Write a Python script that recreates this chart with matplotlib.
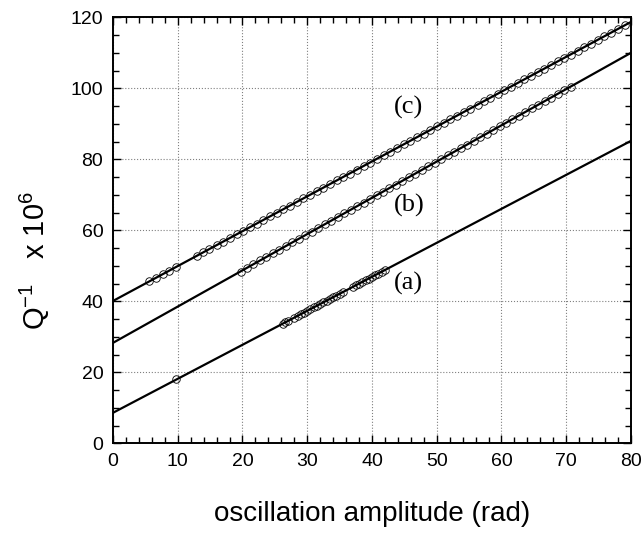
import matplotlib
matplotlib.use("Agg")
import matplotlib.pyplot as plt
from matplotlib.ticker import MultipleLocator

plt.rcParams['font.family'] = ['Liberation Sans Narrow', 'Liberation Sans', 'DejaVu Sans']
plt.rcParams['mathtext.default'] = 'regular'

# fit lines (end points at x = 0 and x = 80)
line_x = [0, 80]
line_a = [8.6, 85.2]
line_b = [28.3, 110.0]
line_c = [40.1, 118.7]

# measured points
a_x = [9.8, 26.2, 26.6, 27.0, 28.0, 28.5, 29.0, 29.5, 30.0, 30.5, 31.0, 31.5, 32.0, 32.5,
       33.0, 33.5, 34.0, 34.5, 35.0, 35.5, 37.0, 37.5, 38.0, 38.5, 39.0, 39.5, 40.0, 40.5,
       41.0, 41.5, 42.0]
a_y = [18.0, 33.7, 34.1, 34.4, 35.4, 35.9, 36.4, 36.8, 37.3, 37.8, 38.3, 38.7, 39.2, 39.7,
       40.2, 40.7, 41.1, 41.6, 42.1, 42.6, 44.0, 44.5, 45.0, 45.4, 45.9, 46.4, 46.9, 47.4,
       47.8, 48.3, 48.8]

b_x = [19.7, 20.7, 21.7, 22.7, 23.7, 24.7, 25.7, 26.7, 27.7, 28.7, 29.7, 30.7, 31.7, 32.7,
       33.7, 34.7, 35.7, 36.7, 37.7, 38.7, 39.7, 40.7, 41.7, 42.7, 43.7, 44.7, 45.7, 46.7,
       47.7, 48.7, 49.7, 50.7, 51.7, 52.7, 53.7, 54.7, 55.7, 56.7, 57.7, 58.7, 59.7, 60.7,
       61.7, 62.7, 63.7, 64.7, 65.7, 66.7, 67.7, 68.7, 69.7, 70.7]
b_y = [48.4, 49.4, 50.5, 51.5, 52.5, 53.5, 54.5, 55.6, 56.6, 57.6, 58.6, 59.6, 60.7, 61.7,
       62.7, 63.7, 64.8, 65.8, 66.8, 67.8, 68.8, 69.9, 70.9, 71.9, 72.9, 73.9, 75.0, 76.0,
       77.0, 78.0, 79.0, 80.1, 81.1, 82.1, 83.1, 84.1, 85.2, 86.2, 87.2, 88.2, 89.3, 90.3,
       91.3, 92.3, 93.3, 94.4, 95.4, 96.4, 97.4, 98.4, 99.5, 100.5]

c_x = [5.6, 6.6, 7.7, 8.7, 9.7, 12.9, 13.9, 14.9, 16.0, 17.0, 18.0, 19.1, 20.1, 21.1, 22.2,
       23.2, 24.2, 25.3, 26.3, 27.3, 28.4, 29.4, 30.4, 31.5, 32.5, 33.5, 34.6, 35.6, 36.6,
       37.7, 38.7, 39.7, 40.8, 41.8, 42.8, 43.9, 44.9, 45.9, 47.0, 48.0, 49.0, 50.1, 51.1,
       52.1, 53.2, 54.2, 55.2, 56.3, 57.3, 58.3, 59.4, 60.4, 61.4, 62.5, 63.5, 64.5, 65.6,
       66.6, 67.6, 68.7, 69.7, 70.7, 71.8, 72.8, 73.8, 74.9, 75.9, 76.9, 78.0, 79.0]
c_y = [45.6, 46.6, 47.7, 48.6, 49.6, 52.8, 53.8, 54.7, 55.8, 56.8, 57.8, 58.9, 59.8, 60.8, 61.9,
       62.9, 63.9, 65.0, 65.9, 66.9, 68.0, 69.0, 70.0, 71.0, 72.0, 73.0, 74.1, 75.1, 76.0,
       77.1, 78.1, 79.1, 80.2, 81.1, 82.1, 83.2, 84.2, 85.2, 86.3, 87.2, 88.2, 89.3, 90.3,
       91.3, 92.3, 93.3, 94.3, 95.4, 96.4, 97.4, 98.4, 99.4, 100.4, 101.5, 102.5, 103.4, 104.5,
       105.5, 106.5, 107.6, 108.5, 109.5, 110.6, 111.6, 112.6, 113.7, 114.6, 115.6, 116.7, 117.7]

labels = ["(a)", "(b)", "(c)"]
label_pos = [(45.7, 44.9), (45.7, 66.9), (45.6, 94.5)]

fig = plt.figure(figsize=(6.43, 5.36), dpi=100)
ax = fig.add_axes([0.1757, 0.1729, 0.8056, 0.7948])

for ly, px, py in [(line_a, a_x, a_y), (line_b, b_x, b_y), (line_c, c_x, c_y)]:
    ax.plot(line_x, ly, color="black", lw=1.6, zorder=3)
    ax.plot(px, py, ls="none", marker="o", ms=5.4, mfc="none", mec="black", mew=0.6, zorder=4)

for t, (x, y) in zip(labels, label_pos):
    ax.text(x, y, t, family=["Liberation Serif", "DejaVu Serif"], fontsize=19,
            ha="center", va="center")

ax.set_xlim(0, 80)
ax.set_ylim(0, 120)
ax.xaxis.set_major_locator(MultipleLocator(10))
ax.xaxis.set_minor_locator(MultipleLocator(2))
ax.yaxis.set_major_locator(MultipleLocator(20))
ax.yaxis.set_minor_locator(MultipleLocator(5))
ax.tick_params(which="both", direction="in", top=True, right=True, labelsize=14, width=1)
ax.tick_params(which="major", length=6, pad=7)
ax.tick_params(which="minor", length=4)
ax.grid(True, which="major", color="gray", ls=":", lw=0.8)
for s in ax.spines.values():
    s.set_linewidth(1.4)

ax.set_xlabel("oscillation amplitude (rad)", fontsize=20)
ax.xaxis.set_label_coords(0.5, -0.135)
ax.set_ylabel("Q$^{-1}$   x 10$^{6}$", fontsize=21)
ax.yaxis.set_label_coords(-0.118, 0.43)

fig.savefig("out.png", dpi=100)
